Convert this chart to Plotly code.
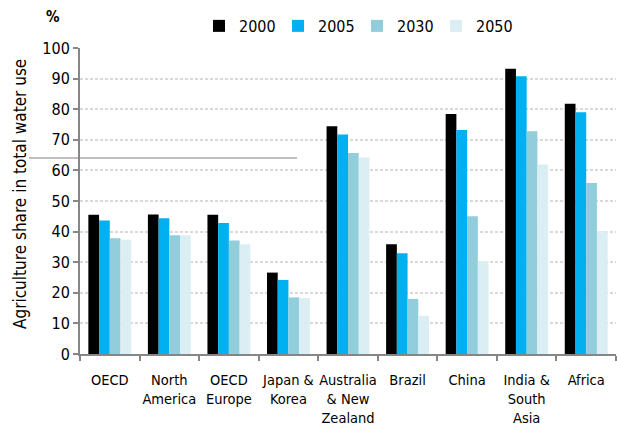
import plotly.graph_objects as go

categories = ["OECD", "North<br>America", "OECD<br>Europe", "Japan &<br>Korea",
              "Australia<br>& New<br>Zealand", "Brazil", "China",
              "India &<br>South<br>Asia", "Africa"]
years = ["2000", "2005", "2030", "2050"]
v2000 = [45.5, 45.6, 45.5, 26.6, 74.4, 35.9, 78.4, 93.2, 81.8]
v2005 = [43.6, 44.4, 42.8, 24.2, 71.7, 32.9, 73.2, 90.8, 79.0]
v2030 = [37.8, 38.8, 37.1, 18.5, 65.7, 18.0, 45.0, 72.8, 55.9]
v2050 = [37.3, 38.8, 35.9, 18.3, 64.2, 12.5, 30.4, 61.9, 40.2]
series = [v2000, v2005, v2030, v2050]
colors = ["#000000", "#00b0f0", "#92cddc", "#daeef3"]

FONT = "Liberation Sans Narrow, Arial Narrow, DejaVu Sans Condensed, sans-serif"

fig = go.Figure()
for name, vals, col in zip(years, series, colors):
    fig.add_trace(go.Bar(x=categories, y=vals, name=name,
                         marker=dict(color=col, line=dict(width=0))))

fig.update_layout(
    width=617, height=436,
    margin=dict(l=80, r=1, t=48, b=82, autoexpand=False),
    paper_bgcolor="white", plot_bgcolor="white",
    barmode="group", bargap=0.28, bargroupgap=0,
    font=dict(family=FONT, size=15, color="#000000"),
    showlegend=True,
    legend=dict(orientation="h", x=0.222, xanchor="left", y=1.072, yanchor="middle",
                font=dict(size=16), entrywidth=34, traceorder="normal",
                bgcolor="rgba(0,0,0,0)"),
    xaxis=dict(type="category", range=[-0.5, 8.5], tickangle=0, automargin=False,
               showline=True, linecolor="#868686", linewidth=2,
               ticks="outside", tickson="boundaries", ticklen=5,
               tickcolor="#868686", tickwidth=2, ticklabelstandoff=12,
               showgrid=False, tickfont=dict(size=14.5)),
    yaxis=dict(range=[0, 100], dtick=10, showline=True, linecolor="#868686",
               linewidth=2, ticks="outside", ticklen=5, tickcolor="#868686",
               tickwidth=2, showgrid=True, gridcolor="#d9d9d9", gridwidth=2,
               griddash="3px,2px", zeroline=False, tickfont=dict(size=16),
               automargin=False),
    annotations=[
        dict(text="<b>%</b>", xref="paper", yref="paper",
             x=(53 - 80) / 536, y=(354 - 17) / 306, showarrow=False,
             font=dict(size=15), xanchor="center", yanchor="middle"),
        dict(text="Agriculture share in total water use", xref="paper", yref="paper",
             x=(20 - 80) / 536, y=(354 - 194) / 306, showarrow=False, textangle=-90,
             font=dict(size=17), xanchor="center", yanchor="middle"),
    ],
    shapes=[dict(type="line", xref="paper", yref="y",
                 x0=(29 - 80) / 536, x1=(297 - 80) / 536, y0=64.05, y1=64.05,
                 line=dict(color="#808080", width=1))],
)

fig.write_html("out.html")
